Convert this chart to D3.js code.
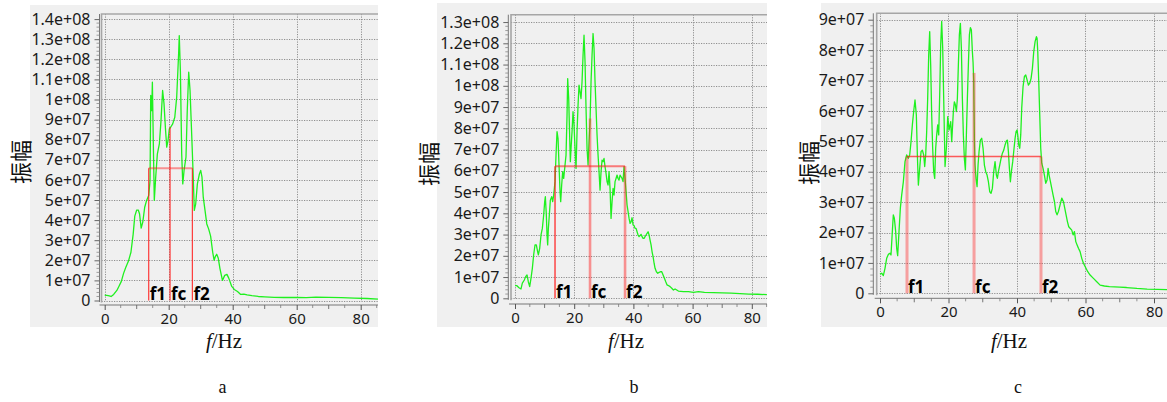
<!DOCTYPE html>
<html>
<head>
<meta charset="utf-8">
<script src="https://cdn.jsdelivr.net/npm/d3@7"></script>
<style>
  html, body { margin: 0; padding: 0; background: #fff; }
  svg { display: block; }
</style>
</head>
<body>
<svg id="chart" width="1167" height="402"></svg>
<script>
// Amplitude spectra, amplitude given in units of 1e7.
const freqA = [0,1.1,2.0,2.8,3.8,4.5,5.2,5.9,6.6,7.4,8.2,8.9,9.4,10.0,10.5,10.9,11.4,11.9,12.5,13.1,13.75,14.17,14.38,14.69,14.9,15.2,15.5,15.94,16.46,17.08,17.6,18.1,18.54,18.96,19.38,19.79,20.2,20.6,21.25,21.9,22.5,23.1,23.3,23.65,24.06,24.4,24.8,25.4,25.8,26.25,26.67,27.1,27.6,28.0,28.44,28.96,29.6,30.0,30.4,30.8,31.35,31.9,32.5,33.1,33.75,34.2,34.6,35.0,35.5,36.0,36.8,37.5,38.2,38.8,39.7,40.5,41.5,42.5,43.5,44.5,46,48,50,53,56,60,63,66,70,74,78,82,85.4];
const ampA = [0.27,0.24,0.2,0.3,0.5,0.72,0.95,1.35,1.65,1.95,2.4,3.3,4.2,4.5,4.5,4.3,3.6,3.9,4.64,4.98,5.22,5.97,10.2,9.45,10.86,7.79,4.98,6.14,7.3,7.79,8.96,10.45,9.78,8.62,7.63,7.96,8.54,8.62,8.79,9.12,10.12,12.27,13.18,11.44,7.3,5.8,6.47,7.13,9.45,11.36,10.45,8.62,6.47,4.48,4.81,5.8,6.3,6.47,6.14,5.14,4.48,3.81,3.55,3.2,2.4,2.0,2.2,2.3,2.1,1.6,1.0,1.25,1.3,1.1,0.7,0.55,0.45,0.3,0.32,0.28,0.24,0.2,0.18,0.16,0.15,0.16,0.14,0.17,0.16,0.14,0.12,0.1,0.07];

const freqB = [0,0.56,1.35,2.03,2.48,3.15,3.6,4.06,4.5,4.96,5.4,5.86,6.3,6.76,7.2,7.66,7.89,8.34,8.79,9.24,9.69,10.03,10.25,10.59,10.82,11.04,11.27,11.6,11.94,12.39,12.73,13.07,13.52,13.86,14.2,14.54,14.87,15.21,15.44,15.77,16.11,16.45,16.9,17.24,17.58,17.8,18.14,18.37,18.7,18.93,19.27,19.6,19.94,20.28,20.62,20.96,21.3,21.63,21.97,22.3,22.65,22.99,23.32,23.66,24.0,24.34,24.68,25.01,25.35,25.69,26.03,26.37,26.7,27.04,27.38,27.72,28.06,28.39,28.73,29.07,29.41,29.75,30.08,30.42,30.76,31.1,31.44,31.77,32.11,32.45,32.79,33.13,33.46,33.8,34.14,34.48,34.82,35.15,35.49,35.83,36.17,36.5,36.84,37.18,37.52,37.86,38.2,38.54,38.87,39.2,39.55,39.89,40.23,40.56,40.9,41.24,41.58,41.92,42.25,42.59,42.93,43.27,43.6,43.94,44.28,44.62,44.96,45.3,45.63,45.97,46.31,46.65,46.99,47.32,47.77,48.23,48.68,49.13,49.58,50.03,50.48,50.93,51.38,51.83,52.4,52.96,53.52,54.08,55.2,56.9,58.6,60.3,62.0,64.0,67,70,73,76,79,82,85.1];
const ampB = [0.6,0.6,0.5,0.44,0.71,0.86,1.02,1.1,0.78,0.55,0.94,1.41,2.04,2.51,2.51,2.19,2.04,2.35,2.98,3.29,3.92,4.55,4.78,3.92,2.98,2.51,3.29,3.92,4.62,4.78,4.55,4.86,5.49,6.74,7.84,7.52,6.27,5.02,4.55,5.33,5.96,5.64,6.27,6.74,8.62,10.34,9.4,8.15,6.43,7.05,7.84,8.78,8.15,7.05,6.11,7.84,9.09,10.03,9.72,9.4,10.19,11.44,12.38,11.13,8.93,7.05,6.27,7.37,8.31,10.19,11.44,12.46,11.76,10.19,8.93,7.68,6.74,5.96,5.09,5.96,6.5,6.43,6.58,6.19,5.88,5.49,5.33,5.96,5.17,3.76,4.55,5.17,4.86,5.49,5.64,5.8,5.64,5.56,5.8,5.72,5.64,5.49,6.2,5.64,5.02,4.39,4.08,3.76,3.53,3.6,3.79,3.45,3.42,3.29,3.29,3.13,2.98,2.9,2.95,3.01,2.9,2.82,2.82,2.9,2.98,3.06,3.13,2.98,2.74,2.51,2.19,1.96,1.65,1.41,1.25,1.18,1.22,1.25,1.25,1.1,0.94,0.78,0.63,0.6,0.55,0.47,0.39,0.44,0.34,0.31,0.31,0.28,0.31,0.28,0.27,0.26,0.24,0.22,0.2,0.19,0.17];

const freqC = [0,0.49,0.97,1.46,1.95,2.43,2.92,3.21,3.6,3.89,4.19,4.58,4.87,5.16,5.55,5.94,6.33,6.82,7.3,7.79,8.28,8.67,9.06,9.45,9.83,10.22,10.61,10.91,11.2,11.59,11.98,12.37,12.76,13.05,13.34,13.63,13.92,14.22,14.51,14.8,15.09,15.38,15.68,15.97,16.26,16.55,16.85,17.14,17.43,17.72,18.01,18.31,18.6,18.99,19.38,19.77,20.16,20.64,20.94,21.42,21.71,22.0,22.3,22.59,22.88,23.17,23.47,23.76,24.05,24.34,24.63,24.93,25.22,25.51,25.8,26.1,26.39,26.68,26.97,27.17,27.36,27.56,27.75,28.04,28.34,28.63,28.92,29.31,29.7,30.09,30.48,30.87,31.26,31.65,32.04,32.42,32.81,33.2,33.59,33.98,34.27,34.57,34.96,35.35,35.74,36.13,36.51,36.9,37.2,37.49,37.78,38.07,38.36,38.75,39.14,39.44,39.73,40.02,40.21,40.51,40.8,41.09,41.38,41.77,42.16,42.55,42.94,43.33,43.72,44.11,44.5,44.89,45.28,45.67,45.86,46.06,46.35,46.64,46.93,47.23,47.61,48.0,48.39,48.78,49.08,49.37,49.76,50.15,50.54,50.93,51.31,51.7,52.09,52.58,53.07,53.55,53.94,54.33,54.72,55.11,55.5,55.99,56.38,56.77,57.16,57.55,57.94,58.42,58.91,59.4,59.88,60.66,61.34,62.32,63.29,64.27,65.5,67,70,72,75,78,81,84];
const ampC = [0.63,0.66,0.58,0.82,1.15,1.28,1.32,1.26,2.03,2.58,2.47,2.03,1.48,1.24,2.03,2.8,3.23,3.67,4.33,4.55,4.44,4.55,4.99,5.54,5.98,6.36,5.87,4.55,3.56,4.11,4.66,4.71,4.55,4.17,4.55,5.32,6.41,7.84,8.61,7.51,5.87,4.77,4.0,3.78,4.77,5.21,5.54,5.21,6.52,8.17,8.94,8.06,6.41,4.17,4.77,5.81,5.37,5.65,4.99,5.98,6.3,6.2,5.98,6.41,7.51,8.5,8.88,8.06,6.41,5.21,4.44,4.06,5.21,6.41,7.51,8.5,8.74,8.66,7.95,7.6,7.0,5.04,4.22,3.78,3.51,4.22,4.66,5.04,5.1,4.77,4.22,4.0,3.89,3.67,3.34,3.29,3.45,4.0,4.33,3.89,3.78,4.0,4.22,4.44,4.61,4.71,4.88,5.01,5.04,4.66,4.11,3.67,4.0,4.33,4.77,5.1,5.32,5.37,5.21,4.88,4.77,5.21,6.09,6.8,7.13,7.18,7.02,6.85,6.91,7.07,7.4,7.95,8.28,8.44,8.39,7.95,6.96,5.87,4.77,4.28,4.11,3.89,3.62,3.73,4.11,3.89,3.67,3.45,3.23,3.02,2.69,2.58,2.69,2.91,3.13,3.02,2.8,2.58,2.36,2.19,2.14,2.08,1.92,2.03,1.7,1.59,1.48,1.37,1.15,0.99,0.88,0.71,0.6,0.49,0.38,0.27,0.24,0.22,0.2,0.19,0.16,0.14,0.13,0.12];

// Band markers: f1, fc, f2 frequencies (Hz), band level and fc height (1e7).
const markNames = ["f1", "fc", "f2"];
const bandA = [13.75, 20.42, 27.4];
const bandB = [13.52, 25.35, 37.18];
const bandC = [7.89, 27.46, 47.0];
const bandLevel = [6.58, 6.22, 4.5];
const fcHeight = [8.62, 8.46, 7.25];

// Axis ticks (amplitude in 1e7, frequency in Hz).
const yTicksA = [0,1,2,3,4,5,6,7,8,9,10,11,12,13,14];
const yTicksB = [0,1,2,3,4,5,6,7,8,9,10,11,12,13];
const yTicksC = [0,1,2,3,4,5,6,7,8,9];
const xTicks = [0,20,40,60,80];
const panelCaptions = ["a", "b", "c"];
const yTitle = "振幅";

const UNIT = 1e7;

// "%g"-style label: 1.4e+08, 9e+07, 0
function sciLabel(v) {
  const n = v * UNIT;
  if (n === 0) return "0";
  return n.toExponential().replace(/e([+-])(\d+)$/, (m, s, d) => "e" + s + (d.length < 2 ? "0" + d : d));
}

// Layout of each panel (pixel geometry) and marker styling.
const layout = [
  { bg: [30, 5, 378, 327], x0: 104.7, pxHz: 3.2, xMax: 85.4, y0: 300.5, px1e7: 20.1,
    frameLeft: 101.5, frameTop: 14, yAxisX: 99.5, xAxisY: 305,
    yTitle: [19, 162], xTitle: [224, 348], caption: [222.5, 393],
    vStyle: [{w:1.2,o:0.85},{w:1.2,o:0.85},{w:1.2,o:0.85}], hStyle: {w:2, o:0.45} },
  { bg: [437, 3, 767, 327], x0: 515, pxHz: 2.96, xMax: 85.1, y0: 298.3, px1e7: 21.25,
    frameLeft: 511, frameTop: 14.7, yAxisX: 508.3, xAxisY: 304,
    yTitle: [427, 164], xTitle: [626, 348], caption: [634, 393],
    vStyle: [{w:1.4,o:0.85},{w:2.6,o:0.45},{w:2.6,o:0.45}], hStyle: {w:2, o:0.55} },
  { bg: [821, 3, 1167, 327], x0: 880, pxHz: 3.425, xMax: 83.8, y0: 293.3, px1e7: 30.4,
    frameLeft: 876.7, frameTop: 13.3, yAxisX: 873.3, xAxisY: 298.3,
    yTitle: [807, 163], xTitle: [1009, 348], caption: [1018, 393],
    vStyle: [{w:3,o:0.38},{w:3,o:0.38},{w:3,o:0.38}], hStyle: {w:1.5, o:0.7} }
];

const series = [
  { freq: freqA, amp: ampA, band: bandA, yTicks: yTicksA },
  { freq: freqB, amp: ampB, band: bandB, yTicks: yTicksB },
  { freq: freqC, amp: ampC, band: bandC, yTicks: yTicksC }
];

const svg = d3.select("#chart");
const tickFont = "'Noto Sans', 'DejaVu Sans', sans-serif";

series.forEach((s, i) => {
  const L = layout[i];
  const g = svg.append("g");
  const [bx0, by0, bx1, by1] = L.bg;

  const x = d3.scaleLinear().domain([0, L.xMax]).range([L.x0, L.x0 + L.xMax * L.pxHz]);
  const yTop = d3.max(s.yTicks);
  const y = d3.scaleLinear().domain([0, yTop]).range([L.y0, L.y0 - yTop * L.px1e7]);

  // panel background
  g.append("rect").attr("x", bx0).attr("y", by0).attr("width", bx1 - bx0).attr("height", by1 - by0)
    .attr("fill", "#f0f0f0");

  // dotted grid
  const grid = g.append("g").attr("stroke", "#8f8f8f").attr("stroke-width", 1)
    .attr("stroke-dasharray", "1.2,1.3").attr("fill", "none");
  grid.selectAll("line.h").data(s.yTicks).join("line")
    .attr("x1", L.frameLeft).attr("x2", bx1)
    .attr("y1", d => Math.round(y(d)) + 0.5).attr("y2", d => Math.round(y(d)) + 0.5);
  grid.selectAll("line.v").data(xTicks.filter(t => x(t) <= bx1)).join("line")
    .attr("y1", L.frameTop).attr("y2", L.y0 + 1)
    .attr("x1", d => Math.round(x(d)) + 0.5).attr("x2", d => Math.round(x(d)) + 0.5);

  // plot frame (top and left)
  g.append("path")
    .attr("d", `M${L.frameLeft},${L.y0 + 2}V${L.frameTop}H${bx1}`)
    .attr("fill", "none").attr("stroke", "#a6a6a6").attr("stroke-width", 1.6);

  // y axis with minor ticks
  const yMinor = [];
  s.yTicks.slice(0, -1).forEach(t => { for (let k = 1; k < 5; k++) yMinor.push(t + k * 0.2); });
  const yAxis = d3.axisLeft(y).tickValues(s.yTicks).tickFormat(sciLabel).tickSize(5).tickPadding(4);
  const yAxisG = g.append("g").attr("transform", `translate(${L.yAxisX},0)`).call(yAxis);
  yAxisG.select(".domain").attr("d", `M0,${L.frameTop}V${L.y0 + 1.5}`).attr("stroke", "#777");
  yAxisG.selectAll(".tick line").attr("stroke", "#666");
  yAxisG.selectAll("text").attr("font-family", tickFont).attr("font-size", 16).attr("fill", "#1a1a1a");
  g.append("g").selectAll("line").data(yMinor).join("line")
    .attr("x1", L.yAxisX - 3).attr("x2", L.yAxisX)
    .attr("y1", d => y(d)).attr("y2", d => y(d))
    .attr("stroke", "#888").attr("stroke-width", 0.8);

  // x axis with minor ticks every 5 Hz
  const xMinor = d3.range(5, L.xMax, 10);
  const xAxis = d3.axisBottom(x).tickValues(xTicks.filter(t => t <= L.xMax)).tickSize(5).tickPadding(3)
    .tickFormat(d3.format("d"));
  const xAxisG = g.append("g").attr("transform", `translate(0,${L.xAxisY})`).call(xAxis);
  xAxisG.select(".domain").attr("d", `M${L.frameLeft - 2},0H${bx1}`).attr("stroke", "#777");
  xAxisG.selectAll(".tick line").attr("stroke", "#555");
  xAxisG.selectAll("text").attr("font-family", tickFont).attr("font-size", 15).attr("fill", "#1a1a1a");
  g.append("g").selectAll("line").data(xMinor).join("line")
    .attr("x1", d => x(d)).attr("x2", d => x(d))
    .attr("y1", L.xAxisY).attr("y2", L.xAxisY + 3)
    .attr("stroke", "#777").attr("stroke-width", 0.8);
  g.append("g").selectAll("line").data(d3.range(10, L.xMax, 20)).join("line")
    .attr("x1", d => x(d)).attr("x2", d => x(d))
    .attr("y1", L.xAxisY).attr("y2", L.xAxisY + 4)
    .attr("stroke", "#666").attr("stroke-width", 0.9);

  // spectrum curve
  const pts = d3.zip(s.freq, s.amp);
  g.append("path").datum(pts)
    .attr("d", d3.line().x(d => x(d[0])).y(d => y(d[1])))
    .attr("fill", "none").attr("stroke", "#1ff01f").attr("stroke-width", 1.3)
    .attr("stroke-linejoin", "round");

  // band markers
  const [f1, fc, f2] = s.band;
  const red = "#ff1a1a";
  const tops = [bandLevel[i], fcHeight[i], bandLevel[i]];
  g.append("g").selectAll("line").data(s.band).join("line")
    .attr("x1", d => x(d)).attr("x2", d => x(d))
    .attr("y1", y(0)).attr("y2", (d, k) => y(tops[k]))
    .attr("stroke", red)
    .attr("stroke-width", (d, k) => L.vStyle[k].w)
    .attr("stroke-opacity", (d, k) => L.vStyle[k].o);
  g.append("line")
    .attr("x1", x(f1)).attr("x2", x(f2))
    .attr("y1", y(bandLevel[i])).attr("y2", y(bandLevel[i]))
    .attr("stroke", red).attr("stroke-width", L.hStyle.w).attr("stroke-opacity", L.hStyle.o);

  g.append("g").selectAll("text").data(s.band).join("text")
    .attr("x", d => x(d) + 1).attr("y", L.y0 - 0.5)
    .attr("font-family", tickFont).attr("font-weight", "bold").attr("font-size", 17)
    .attr("fill", "#000")
    .text((d, k) => markNames[k]);

  // axis titles
  g.append("text")
    .attr("transform", `translate(${L.yTitle[0]},${L.yTitle[1]}) rotate(-90)`)
    .attr("text-anchor", "middle").attr("dominant-baseline", "central")
    .attr("font-family", "'Noto Sans CJK SC', sans-serif").attr("font-size", 22).attr("fill", "#111")
    .text(yTitle);

  const xt = g.append("text")
    .attr("x", L.xTitle[0]).attr("y", L.xTitle[1])
    .attr("text-anchor", "middle")
    .attr("font-family", "'Liberation Serif', 'DejaVu Serif', serif").attr("font-size", 21).attr("fill", "#111");
  xt.append("tspan").attr("font-style", "italic").text("f");
  xt.append("tspan").text("/Hz");

  g.append("text")
    .attr("x", L.caption[0]).attr("y", L.caption[1])
    .attr("text-anchor", "middle")
    .attr("font-family", "'Liberation Serif', serif").attr("font-size", 18).attr("fill", "#111")
    .text(panelCaptions[i]);
});
</script>
</body>
</html>
